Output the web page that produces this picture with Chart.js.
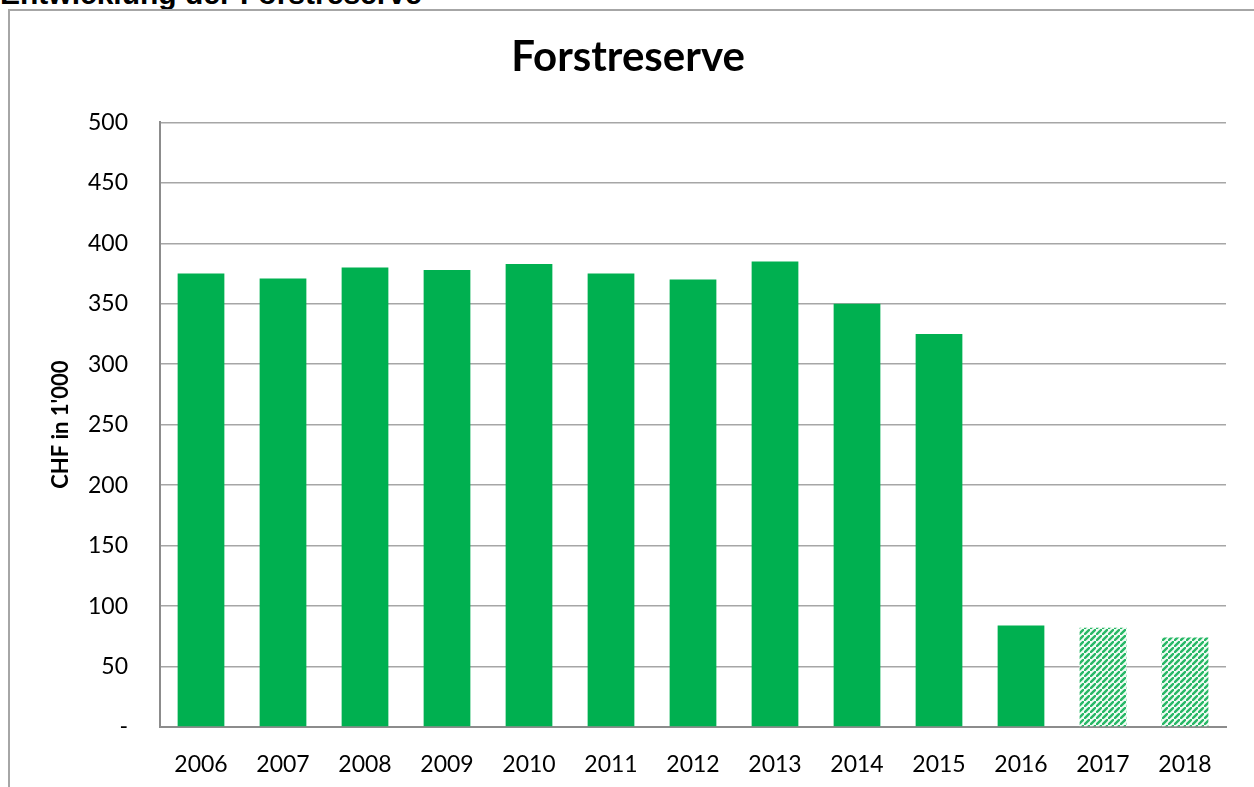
<!DOCTYPE html>
<html>
<head>
<meta charset="utf-8">
<script src="https://cdn.jsdelivr.net/npm/chart.js@4.4.1/dist/chart.umd.min.js"></script>
<style>
  html, body { margin: 0; padding: 0; background: #fff; overflow: hidden; }
  body { width: 1254px; height: 787px; position: relative; }
  .head {
    position: absolute; left: 0; top: -21px;
    font: bold 30px "Liberation Sans", Arial, sans-serif; line-height: 1;
    color: #000; white-space: nowrap;
  }
  .box {
    position: absolute; left: 8px; top: 9px; right: -4px; bottom: -4px;
    border-left: 2px solid #a6a6a6; border-top: 2px solid #a6a6a6;
  }
  canvas { display: block; }
</style>
</head>
<body>
<div class="head">Entwicklung der Forstreserve</div>
<div class="box"><canvas id="chart" width="1244" height="776"></canvas></div>
<script>
const years = ["2006", "2007", "2008", "2009", "2010", "2011", "2012", "2013", "2014", "2015", "2016", "2017", "2018"];
const reserve = [375, 371, 380, 378, 383, 375, 370, 385, 350, 325, 84, 82, 74];
const plannedYears = ["2017", "2018"]; // budget values, hatched
const yTicks = [0, 50, 100, 150, 200, 250, 300, 350, 400, 450, 500];

const green = '#00b050';

// diagonal hatch for the planned years
function makeHatch() {
    const s = 6;
    const c = document.createElement('canvas');
    c.width = s; c.height = s;
    const g = c.getContext('2d');
    g.fillStyle = '#f2fbf5';
    g.fillRect(0, 0, s, s);
    g.strokeStyle = '#28b866';
    g.lineWidth = 2.4;
    g.beginPath();
    g.moveTo(-1, s + 1); g.lineTo(s + 1, -1);
    g.moveTo(-1 - s, 1); g.lineTo(1, -1 - s);
    g.moveTo(s - 1, 2 * s + 1); g.lineTo(2 * s + 1, s - 1);
    g.stroke();
    return g.createPattern(c, 'repeat');
}
const hatch = makeHatch();

// center the title over the whole frame, not just the padded area
const wideTitle = {
    id: 'wideTitle',
    afterLayout(chart) {
        const t = chart.titleBlock;
        if (t) { t.left = 0; t.right = chart.width - 8; t.width = t.right; }
    }
};

const ctx = document.getElementById('chart');
new Chart(ctx, {
    type: 'bar',
    data: {
        labels: years,
        datasets: [{
            data: reserve,
            backgroundColor: c => plannedYears.includes(years[c.dataIndex]) ? hatch : green,
            borderWidth: 0,
            barPercentage: 0.57,
            categoryPercentage: 1
        }]
    },
    options: {
        responsive: false,
        animation: false,
        layout: { padding: { right: 28, top: 0, bottom: 0, left: 0 } },
        plugins: {
            legend: { display: false },
            tooltip: { enabled: false },
            title: {
                display: true,
                text: 'Forstreserve',
                color: '#000',
                font: { family: 'Lato', size: 42, weight: 'bold' },
                padding: { top: 21, bottom: 40 }
            }
        },
        scales: {
            x: {
                grid: { display: false },
                border: { display: true, color: '#8c8c8c', width: 2 },
                ticks: {
                    color: '#000',
                    font: { family: 'Lato', size: 23 },
                    padding: 16,
                    maxRotation: 0
                },
                afterFit: s => { s.height = 60; }
            },
            y: {
                min: 0,
                max: 500,
                afterBuildTicks: s => { s.ticks = yTicks.map(v => ({ value: v })); },
                grid: { color: '#a6a6a6', lineWidth: 1.5, drawTicks: false },
                border: { display: true, color: '#8c8c8c', width: 2 },
                ticks: {
                    color: '#000',
                    font: { family: 'Lato', size: 23 },
                    padding: 32,
                    callback: v => v === 0 ? '-' : v
                },
                title: {
                    display: true,
                    text: "CHF in 1'000",
                    color: '#000',
                    font: { family: 'Lato', size: 22, weight: 'bold' },
                    padding: { top: 38, bottom: 0 }
                },
                afterFit: s => { s.width = 150; }
            }
        }
    },
    plugins: [wideTitle]
});
</script>
</body>
</html>
